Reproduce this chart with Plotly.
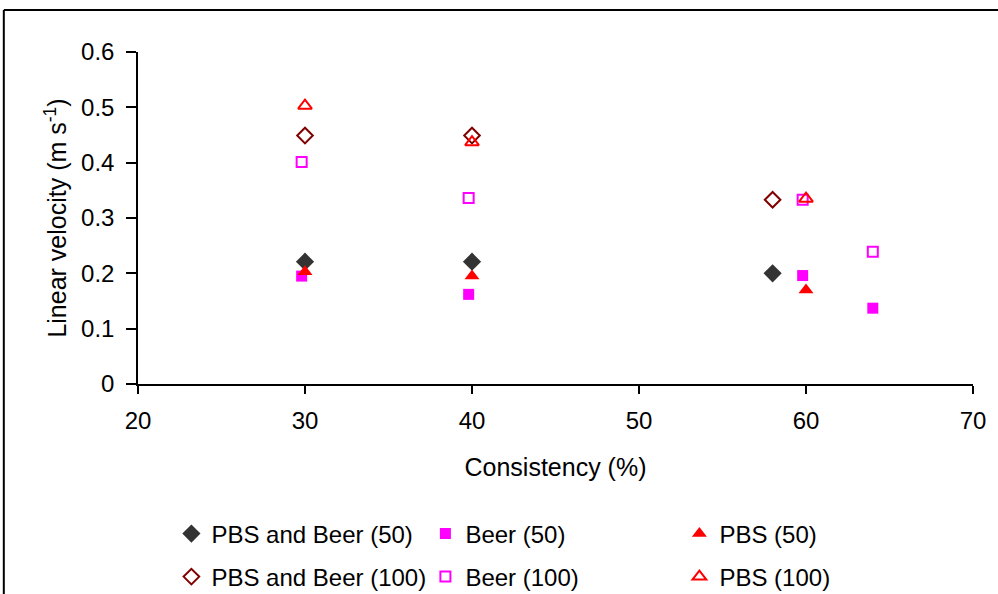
import plotly.graph_objects as go

# Data
pbs_beer_50_x = [30, 40, 58]
pbs_beer_50_y = [0.221, 0.221, 0.200]
pbs_beer_100_x = [30, 40, 58]
pbs_beer_100_y = [0.449, 0.449, 0.333]
beer_50_x = [29.8, 39.8, 59.8, 64]
beer_50_y = [0.195, 0.162, 0.196, 0.137]
beer_100_x = [29.8, 39.8, 59.8, 64]
beer_100_y = [0.401, 0.336, 0.333, 0.239]
pbs_50_x = [30, 40, 60]
pbs_50_y = [0.203, 0.195, 0.170]
pbs_100_x = [30, 40, 60]
pbs_100_y = [0.503, 0.437, 0.335]

x_ticks = [20, 30, 40, 50, 60, 70]
y_ticks = [0, 0.1, 0.2, 0.3, 0.4, 0.5, 0.6]

FONT = "Liberation Sans, Arial, sans-serif"

fig = go.Figure()

def add(x, y, name, symbol, color, size, legend, open_=False):
    marker = dict(symbol=symbol, size=size, color=color)
    if open_:
        marker["line"] = dict(color=color, width=2)
    fig.add_trace(go.Scatter(x=x, y=y, mode="markers", name=name, marker=marker, legend=legend))

add(pbs_beer_50_x, pbs_beer_50_y, "PBS and Beer (50)", "diamond", "#333333", 14, "legend")
add(beer_50_x, beer_50_y, "Beer (50)", "square", "#FF00FF", 11, "legend")
add(pbs_50_x, pbs_50_y, "PBS (50)", "triangle-up", "#FF0000", 13, "legend")
add(pbs_beer_100_x, pbs_beer_100_y, "PBS and Beer (100)", "diamond-open", "#800000", 12, "legend2", True)
add(beer_100_x, beer_100_y, "Beer (100)", "square-open", "#FF00FF", 10, "legend2", True)
add(pbs_100_x, pbs_100_y, "PBS (100)", "triangle-up-open", "#FF0000", 12, "legend2", True)

axis_common = dict(
    showline=True, linecolor="black", linewidth=1.5, showgrid=False, zeroline=False,
    ticks="outside", tickcolor="black", tickwidth=1.5,
    tickfont=dict(family=FONT, size=24, color="black"),
)

fig.update_xaxes(
    range=[20, 70], tickvals=x_ticks, ticklen=8, ticklabelstandoff=6,
    title=dict(text="Consistency (%)", font=dict(family=FONT, size=25, color="black"), standoff=26),
    **axis_common,
)
fig.update_yaxes(
    range=[0, 0.6], tickvals=y_ticks, ticktext=[f"{v:g}" for v in y_ticks], ticklen=10,
    ticklabelstandoff=7,
    title=dict(text="Linear velocity (m s<sup>-1</sup>)", font=dict(family=FONT, size=25, color="black"), standoff=7),
    **axis_common,
)

legend_common = dict(
    orientation="h", x=0.04, xanchor="left", yanchor="middle", yref="container",
    entrywidth=209, entrywidthmode="pixels",
    font=dict(family=FONT, size=24, color="black"),
    itemsizing="trace", bgcolor="rgba(0,0,0,0)",
)

fig.update_layout(
    width=998, height=594,
    margin=dict(l=138, r=23, t=52, b=210),
    paper_bgcolor="white", plot_bgcolor="white",
    showlegend=True,
    legend=dict(y=0.101, **legend_common),
    legend2=dict(y=0.0286, **legend_common),
    shapes=[
        dict(type="line", xref="paper", yref="paper", x0=-0.1607, x1=1.2, y0=1.1265, y1=1.1265,
             line=dict(color="black", width=2)),
        dict(type="line", xref="paper", yref="paper", x0=-0.1607, x1=-0.1607, y0=1.1265, y1=-1.0,
             line=dict(color="black", width=2)),
    ],
)

fig.write_html("out.html")
